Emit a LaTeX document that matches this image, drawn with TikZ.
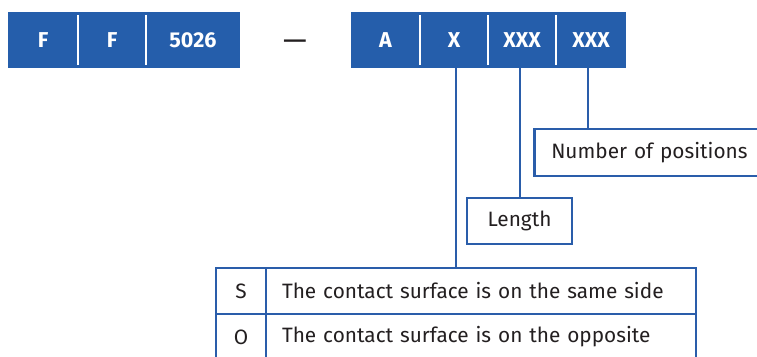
\documentclass[tikz,border=0pt]{standalone}
\usepackage{fontspec}
\setmainfont{Fira Sans}
\definecolor{barblue}{HTML}{255EAB}
\definecolor{lineblue}{HTML}{2A5DAA}
\definecolor{txt}{HTML}{231F20}
\begin{document}
\begin{tikzpicture}[x=1pt,y=-1pt,
  cell/.style={fill=barblue, inner sep=0pt, minimum height=56pt, text=white, font=\fontsize{21.5}{24}\selectfont\bfseries},
  sep/.style={white, line width=2pt},
  conn/.style={lineblue, line width=2.5pt},
  lbox/.style={draw=lineblue, line width=2.5pt, inner sep=0pt, text=txt, font=\fontsize{20.8}{24}\selectfont},
]
\clip (0,0) rectangle (757,356);
% left bar
\node[cell, minimum width=70pt] (c1) at (43,40) {F};
\node[cell, minimum width=68pt] (c2) at (112,40) {F};
\node[cell, minimum width=94pt] (c3) at (193,40) {5026};
\node[text=txt, font=\fontsize{30}{32}\selectfont] (dash) at (295,45) {—};
% right bar
\node[cell, minimum width=69pt] (d1) at (385.5,40) {A};
\node[cell, minimum width=68pt] (d2) at (454,40) {X};
\node[cell, minimum width=68pt] (d3) at (522,40) {XXX};
\node[cell, minimum width=70pt] (d4) at (591,40) {XXX};
% separators
\foreach \a/\b in {c1/c2,c2/c3,d1/d2,d2/d3,d3/d4}
  \draw[sep] ([yshift=-3pt]\a.north east) -- ([yshift=3pt]\a.south east);
% Number of positions box
\node[lbox, minimum height=47pt, text width=283pt, align=left, inner xsep=17pt, anchor=west] (num) at (533,152.5) {Number of positions};
% Length box
\node[lbox, minimum width=105pt, minimum height=46pt] (len) at (519.5,221) {Length};
% table
\node[lbox, minimum width=50pt, minimum height=46pt] (sk) at (241,291) {S};
\node[lbox, minimum height=46pt, text width=398pt, inner xsep=16pt, align=left] (st) at (481,291) {The contact surface is on the same side};
\node[lbox, minimum width=50pt, minimum height=46pt] (ok) at (241,337) {O};
\node[lbox, minimum height=46pt, text width=398pt, inner xsep=16pt, align=left] (ot) at (481,337) {The contact surface is on the opposite};
% connectors
\draw[conn] ([xshift=2pt]d2.south) -- ([xshift=2pt]d2.south |- st.north);
\draw[conn] ([xshift=-2pt]d3.south) -- ([xshift=-2pt]d3.south |- len.north);
\draw[conn] ([xshift=-3pt]d4.south) -- ([xshift=-3pt]d4.south |- num.north);
\end{tikzpicture}
\end{document}
